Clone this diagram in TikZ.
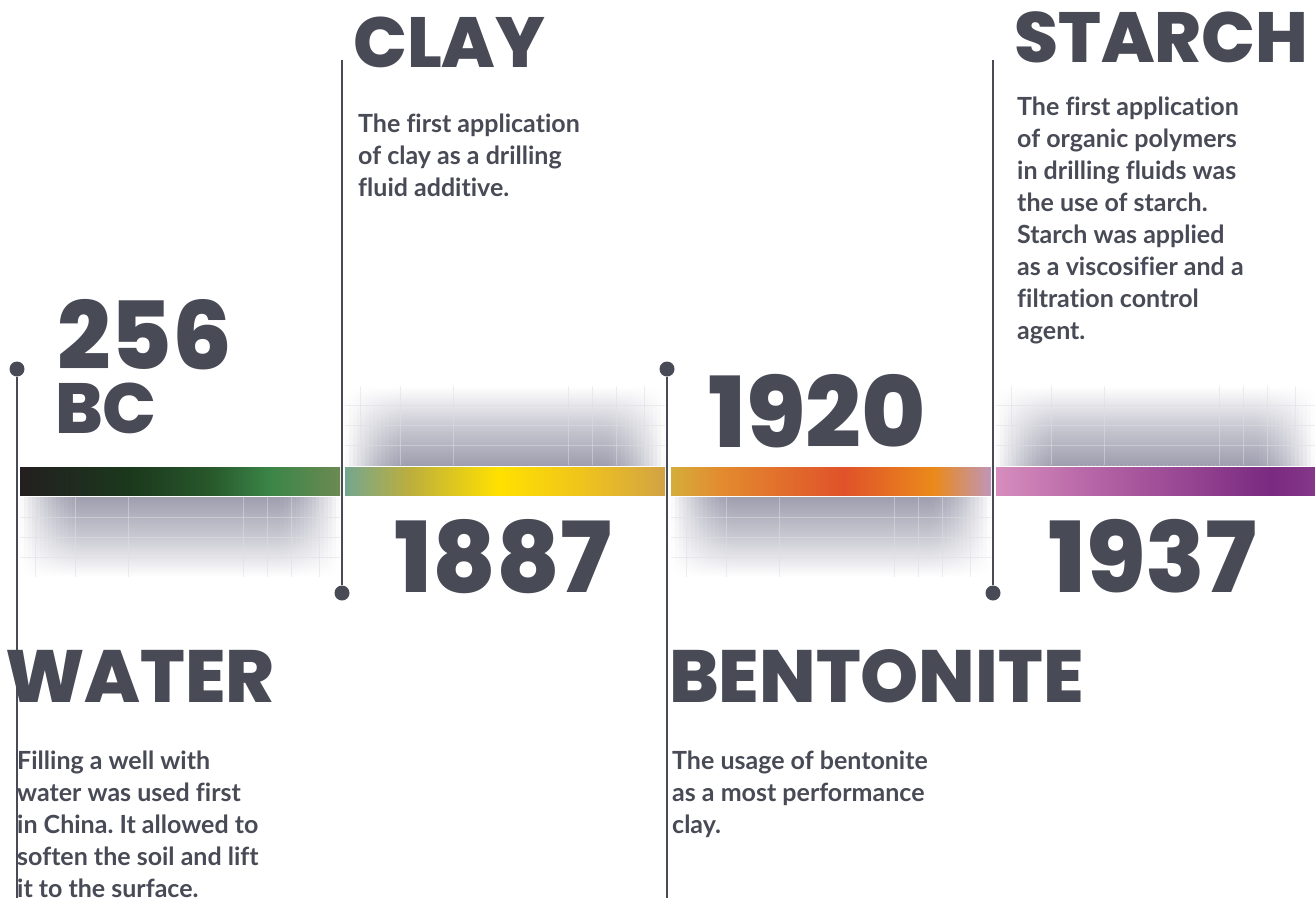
\documentclass[tikz,border=0pt]{standalone}
\usepackage{fontspec}
\setmainfont{Lato}[Ligatures=CommonOff]
\IfFontExistsTF{Poppins ExtraBold}
  {\newfontfamily\headfont{Poppins}[UprightFont={* ExtraBold}, BoldFont={* ExtraBold}]}
  {\newfontfamily\headfont{Poppins}}
\usetikzlibrary{positioning}
\frenchspacing

\definecolor{ink}{RGB}{72,74,86}
\definecolor{shadowgray}{RGB}{158,158,175}
\definecolor{gridgray}{RGB}{222,222,228}
% bar colours
\definecolor{w0}{HTML}{231F20}\definecolor{w1}{HTML}{1B381C}\definecolor{w2}{HTML}{28592C}
\definecolor{w3}{HTML}{3B8548}\definecolor{w4}{HTML}{6B8A52}
\definecolor{c0}{HTML}{74A68E}\definecolor{c1}{HTML}{BCAE3E}\definecolor{c2}{HTML}{FFE100}
\definecolor{c3}{HTML}{EFC41C}\definecolor{c4}{HTML}{D2A244}
\definecolor{b0}{HTML}{D5AD3A}\definecolor{b1}{HTML}{E38A2E}\definecolor{b2}{HTML}{E0522A}
\definecolor{b3}{HTML}{EA8A1A}\definecolor{b4}{HTML}{BF95B9}
\definecolor{s0}{HTML}{D68DBD}\definecolor{s1}{HTML}{B665A6}\definecolor{s2}{HTML}{7A2A80}
\definecolor{s3}{HTML}{853789}

\pgfdeclarehorizontalshading{watershade}{100bp}{color(0bp)=(w0); color(25bp)=(w0);
  color(42bp)=(w1); color(55bp)=(w2); color(64bp)=(w3); color(75bp)=(w4); color(100bp)=(w4)}
\pgfdeclarehorizontalshading{clayshade}{100bp}{color(0bp)=(c0); color(25bp)=(c0);
  color(35bp)=(c1); color(49bp)=(c2); color(62bp)=(c3); color(75bp)=(c4); color(100bp)=(c4)}
\pgfdeclarehorizontalshading{bentoshade}{100bp}{color(0bp)=(b0); color(25bp)=(b0);
  color(33bp)=(b1); color(52bp)=(b2); color(66bp)=(b3); color(75bp)=(b4); color(100bp)=(b4)}
\pgfdeclarehorizontalshading{starchshade}{100bp}{color(0bp)=(s0); color(25bp)=(s0);
  color(40bp)=(s1); color(68bp)=(s2); color(75bp)=(s3); color(100bp)=(s3)}

% soft shadow next to a bar piece: #1,#2 left/right, #3 edge at the bar, #4 far edge,
% #5 = shading angle (0 when the bar is above it, 180 when below)
\newcommand{\barshadow}[5]{%
  \foreach \k in {0,...,79} {
    \pgfmathsetmacro{\xa}{#1+(#2-#1)/80*\k}
    \pgfmathsetmacro{\xb}{#1+(#2-#1)/80*(\k+1)}
    \pgfmathsetmacro{\ramp}{min(1, min(\k+0.5, 79.5-\k)/15)}
    \pgfmathsetmacro{\depth}{100*\ramp*(1.6-0.6*\ramp)}
    \shade[top color=shadowgray!\depth!white, bottom color=white,
      middle color=shadowgray!\depth!white!55!white, shading angle=#5]
      (\xa, #3) rectangle (\xb, #4);
  }
  \foreach \off in {15,55,108,223,247,271,299}
    \draw[gridgray, opacity=0.5, line width=0.8pt] ({#1+\off}, #3) -- ({#1+\off}, #4);
  \foreach \d in {0.25,0.5,0.75}
    \draw[gridgray, opacity=0.5, line width=0.8pt] (#1, {#3+(#4-#3)*\d}) -- (#2, {#3+(#4-#3)*\d});
}

\begin{document}
\begin{tikzpicture}[x=1pt, y=-1pt,
    year/.style={font=\headfont\bfseries\fontsize{98}{98}\selectfont, text=ink,
      anchor=base west, inner sep=0pt},
    era/.style={year, font=\headfont\bfseries\fontsize{71}{71}\selectfont},
    title/.style={year, font=\headfont\bfseries\fontsize{71}{71}\selectfont},
    wide title/.style={year, font=\headfont\bfseries\fontsize{74}{74}\selectfont},
    blurb/.style={font=\bfseries\fontsize{25}{32}\selectfont, text=ink, align=left,
      anchor=north west, inner sep=0pt},
    stem/.style={draw=ink, line width=2.6pt},
    dot/.style={circle, fill=ink, minimum size=15pt, inner sep=0pt}]
    \useasboundingbox (0, 0) rectangle (1315, 898);

    % shadows
    \barshadow{20}{340}{497}{577}{0}
    \barshadow{345}{665}{465}{386}{180}
    \barshadow{671}{991}{497}{577}{0}
    \barshadow{996}{1315}{465}{386}{180}

    % bar
    \shade[shading=watershade] (20, 467) rectangle (340, 495);
    \shade[shading=clayshade] (345, 467) rectangle (665, 495);
    \shade[shading=bentoshade] (671, 467) rectangle (991, 495);
    \shade[shading=starchshade] (996, 467) rectangle (1315, 495);

    % stems
    \node[dot] (waterdot) at (17, 369) {};
    \node[dot] (claydot) at (342, 593) {};
    \node[dot] (bentodot) at (667, 369) {};
    \node[dot] (starchdot) at (993, 593) {};
    \coordinate (waterend) at (17, 898);
    \coordinate (claytop) at (342, 60);
    \coordinate (bentoend) at (667, 898);
    \coordinate (starchtop) at (993, 60);
    \draw[stem] (waterdot) -- (waterend);
    \draw[stem] (claydot) -- (claytop);
    \draw[stem] (bentodot) -- (bentoend);
    \draw[stem] (starchdot) -- (starchtop);

    % dates
    \node[year, font=\headfont\bfseries\fontsize{94}{94}\selectfont] (bc256) at (57, 369) {256};
    \node[era] (bc) at (55, 433) {BC};
    \node[year] (y1887) at (394, 592) {1887};
    \node[year] (y1920) at (708, 447) {1920};
    \node[year] (y1937) at (1048, 592) {1937};

    % titles
    \node[wide title] (water) at (5, 702) {WATER};
    \node[title] (clay) at (353, 67) {CLAY};
    \node[wide title] (bentonite) at (669, 702) {BENTONITE};
    \node[title] (starch) at (1014, 62) {STARCH};

    % texts
    \node[blurb] (watertext) at (17, 751) {Filling a well with\\water was used first\\in China. It allowed to\\soften the soil and lift\\it to the surface.};
    \node[blurb] (claytext) at (358, 114) {The first application\\of clay as a drilling\\fluid additive.};
    \node[blurb] (bentotext) at (672, 751) {The usage of bentonite\\as a most performance\\clay.};
    \node[blurb] (starchtext) at (1017, 97) {The first application\\of organic polymers\\in drilling fluids was\\the use of starch.\\Starch was applied\\as a viscosifier and a\\filtration control\\agent.};
\end{tikzpicture}
\end{document}
